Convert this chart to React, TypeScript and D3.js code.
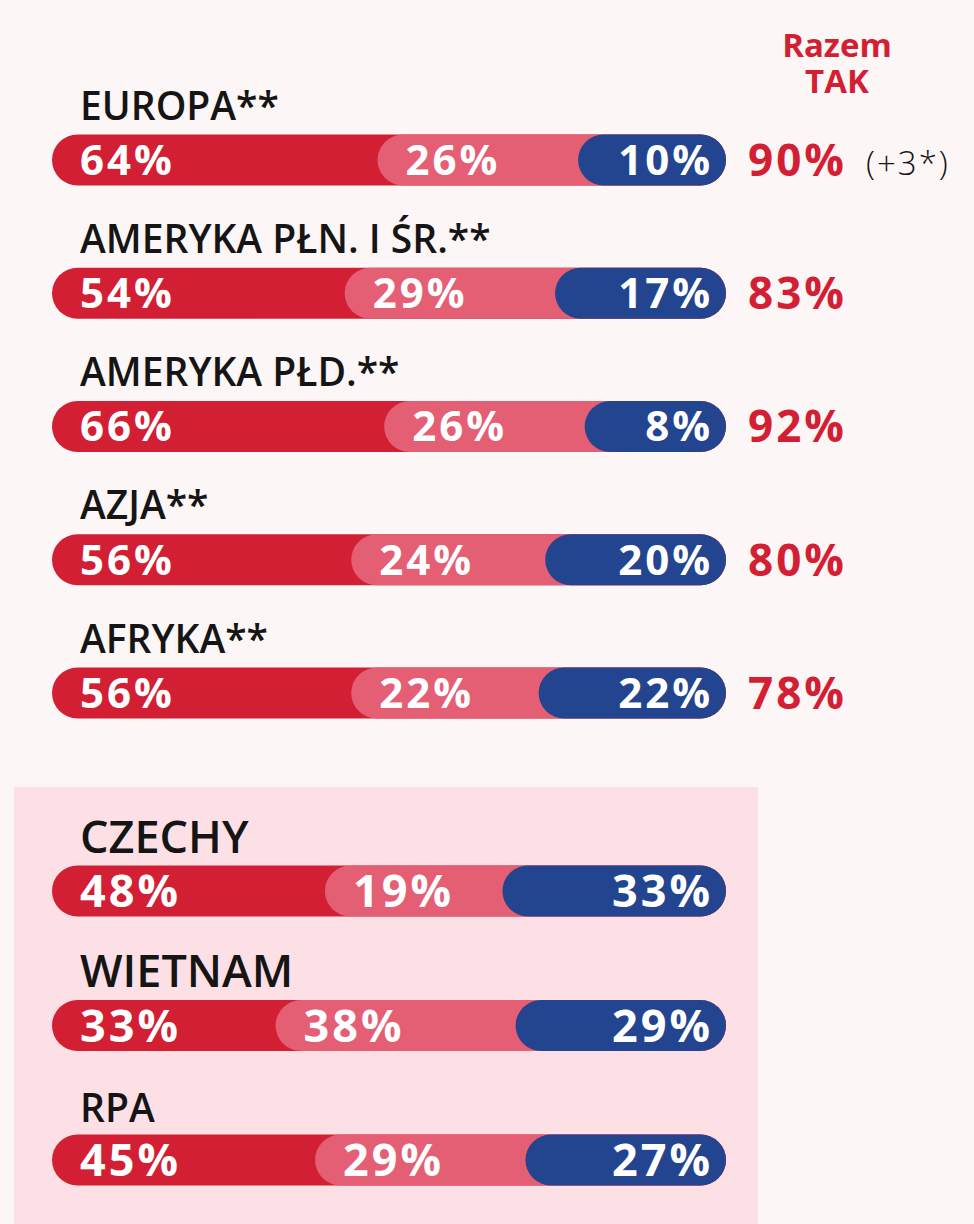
import React from "react";
import * as d3 from "d3";

// ---- data ----
const TOP_REGIONS = ["EUROPA**", "AMERYKA PŁN. I ŚR.**", "AMERYKA PŁD.**", "AZJA**", "AFRYKA**"];
const TOP_YES_DEFINITELY = [64, 54, 66, 56, 56];
const TOP_YES_RATHER = [26, 29, 26, 24, 22];
const TOP_NO = [10, 17, 8, 20, 22];
const TOP_TOTAL_YES = [90, 83, 92, 80, 78];
const TOP_TOTAL_NOTE = ["(+3*)", "", "", "", ""];

const LOWER_COUNTRIES = ["CZECHY", "WIETNAM", "RPA"];
const LOWER_YES_DEFINITELY = [48, 33, 45];
const LOWER_YES_RATHER = [19, 38, 29];
const LOWER_NO = [33, 29, 27];

const TOTAL_HEADER = ["Razem", "TAK"];

// ---- style ----
const W = 974;
const H = 1224;
const BG = "#fdf6f6";
const BOX = "#fde0e5";
const RED = "#d31f33";
const PINK = "#e45e74";
const BLUE = "#23448f";
const INK = "#151515";
const FONT = "'Open Sans', 'Lato', sans-serif";

const TRACK_X0 = 52;
const TRACK_X1 = 726;
const BAR_H = 51;
const MIN_SEG = 115; // minimum visible width of each segment (room for its label)

type Row = { name: string; a: number; b: number; c: number; total?: number; note?: string };

const topRows: Row[] = TOP_REGIONS.map((name, i) => ({
  name,
  a: TOP_YES_DEFINITELY[i],
  b: TOP_YES_RATHER[i],
  c: TOP_NO[i],
  total: TOP_TOTAL_YES[i],
  note: TOP_TOTAL_NOTE[i],
}));
const lowerRows: Row[] = LOWER_COUNTRIES.map((name, i) => ({
  name,
  a: LOWER_YES_DEFINITELY[i],
  b: LOWER_YES_RATHER[i],
  c: LOWER_NO[i],
}));

// share scale: percent -> width of the proportional part of a segment
const share = d3.scaleLinear().domain([0, 100]).range([0, TRACK_X1 - TRACK_X0 - 3 * MIN_SEG]);

const yTop = d3.scaleLinear().domain([0, 4]).range([160, 693]);
const yLow = d3.scaleLinear().domain([0, 2]).range([891, 1160]);

function Bar({ row, cy, labelSize, pctSize, labelGap }: { row: Row; cy: number; labelSize: number; pctSize: number; labelGap: number }) {
  const top = cy - BAR_H / 2;
  const r = BAR_H / 2;
  const pinkX = TRACK_X0 + MIN_SEG + share(row.a);
  const blueX = pinkX + MIN_SEG + share(row.b);
  const base = cy + (pctSize * 0.714) / 2;
  const pctStyle: React.CSSProperties = { fontFamily: FONT, fontWeight: 700, fontSize: pctSize, letterSpacing: 3 };
  return (
    <g>
      <text x={80} y={top - labelGap} fill={INK} style={{ fontFamily: FONT, fontWeight: 600, fontSize: labelSize }}>
        {row.name}
      </text>
      <rect x={TRACK_X0} y={top} width={TRACK_X1 - TRACK_X0} height={BAR_H} rx={r} ry={r} fill={RED} />
      <rect x={pinkX} y={top} width={TRACK_X1 - pinkX} height={BAR_H} rx={r} ry={r} fill={PINK} />
      <rect x={blueX} y={top} width={TRACK_X1 - blueX} height={BAR_H} rx={r} ry={r} fill={BLUE} />
      <text x={80} y={base} fill="#fff" style={pctStyle}>{row.a}%</text>
      <text x={pinkX + 28} y={base} fill="#fff" style={pctStyle}>{row.b}%</text>
      <text x={713} y={base} fill="#fff" textAnchor="end" style={pctStyle}>{row.c}%</text>
      {row.total !== undefined && (
        <text x={748} y={base + 1} fill={RED} style={{ fontFamily: FONT, fontWeight: 700, fontSize: pctSize + 2, letterSpacing: 3 }}>
          {row.total}%
        </text>
      )}
      {row.note ? (
        <text x={866} y={base} fill={INK} style={{ fontFamily: FONT, fontWeight: 300, fontSize: 33, letterSpacing: 2 }}>
          {row.note}
        </text>
      ) : null}
    </g>
  );
}

export default function App() {
  return (
    <svg width={W} height={H} style={{ position: "absolute", left: 0, top: 0, display: "block" }}>
      <rect x={0} y={0} width={W} height={H} fill={BG} />
      <rect x={14} y={787} width={744} height={H - 787} fill={BOX} />
      <text x={837} y={57} fill={RED} textAnchor="middle" style={{ fontFamily: FONT, fontWeight: 700, fontSize: 33 }}>
        {TOTAL_HEADER[0]}
      </text>
      <text x={837} y={93} fill={RED} textAnchor="middle" style={{ fontFamily: FONT, fontWeight: 700, fontSize: 33 }}>
        {TOTAL_HEADER[1]}
      </text>
      {topRows.map((row, i) => (
        <Bar key={row.name} row={row} cy={yTop(i)} labelSize={39} pctSize={42} labelGap={15} />
      ))}
      {lowerRows.map((row, i) => (
        <Bar key={row.name} row={row} cy={yLow(i)} labelSize={row.name === "RPA" ? 39 : 45} pctSize={45} labelGap={13} />
      ))}
    </svg>
  );
}
